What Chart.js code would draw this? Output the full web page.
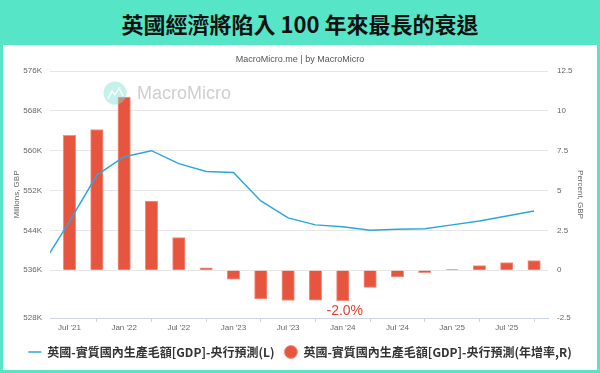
<!DOCTYPE html>
<html>
<head>
<meta charset="utf-8">
<script src="https://cdn.jsdelivr.net/npm/chart.js@4/dist/chart.umd.min.js"></script>
<style>
body { margin: 0; width: 600px; height: 373px; background: #56e5c6; overflow: hidden; position: relative; }
#titulo { position: absolute; left: 0; top: 0; width: 600px; height: 45px; line-height: 46px; text-align: center;
  font-family: "Noto Sans CJK TC", sans-serif; font-weight: bold; font-size: 22px; color: #111; }
#painel { position: absolute; left: 3px; top: 45px; width: 594px; height: 325px; background: #fff; }
</style>
</head>
<body>
<div id="titulo">英國經濟將陷入 100 年來最長的衰退</div>
<div id="painel"><canvas id="graficoPib" width="594" height="325"></canvas></div>
<script>
// trimestres (indice = posicao no eixo x)
var trimestres = ["Apr '21","Jul '21","Oct '21","Jan '22","Apr '22","Jul '22","Oct '22","Jan '23","Apr '23","Jul '23",
                  "Oct '23","Jan '24","Apr '24","Jul '24","Oct '24","Jan '25","Apr '25","Jul '25","Oct '25"];
// PIB real (milhares de milhoes GBP) - eixo L
var pibNivel = [537.0, 545.8, 555.1, 558.8, 560.0, 557.4, 555.8, 555.6, 549.9, 546.5,
                545.1, 544.7, 544.0, 544.2, 544.3, 545.1, 545.9, 546.9, 547.9];
// crescimento anual (%) - eixo R
var pibAnual = [null, 8.46, 8.83, 10.86, 4.33, 2.04, 0.15, -0.56, -1.80, -1.90,
                -1.88, -1.92, -1.08, -0.42, -0.15, 0.04, 0.29, 0.48, 0.61];
var ticksX = ["Jul '21","Jan '22","Jul '22","Jan '23","Jul '23","Jan '24","Jul '24","Jan '25","Jul '25"];
var ticksEsq = [526.4, 536, 544, 552, 560, 568, 576];
var rotulosEsq = ["528K","536K","544K","552K","560K","568K","576K"];
var ticksDir = [-3, 0, 2.5, 5, 7.5, 10, 12.5];
var rotulosDir = ["-2.5","0","2.5","5","7.5","10","12.5"];
var destaque = { trimestre: "Jan '24", texto: "-2.0%" };

var nomeLinha = "英國-實質國內生產毛額[GDP]-央行預測(L)";
var nomeBarra = "英國-實質國內生產毛額[GDP]-央行預測(年增率,R)";

var pontosLinha = pibNivel.map(function (v, i) { return { x: i, y: v }; });
var pontosBarra = [];
pibAnual.forEach(function (v, i) { if (v !== null) pontosBarra.push({ x: i, y: v }); });

Chart.defaults.font.family = "'Liberation Sans', Arial, sans-serif";
Chart.defaults.color = "#666";

// marca d'agua, subtitulo e rotulo -2.0%
var extras = {
    id: 'extras',
    afterDatasetsDraw: function (chart) {
        var ctx = chart.ctx;
        ctx.save();
        ctx.globalAlpha = 0.45;
        ctx.fillStyle = '#7fe0d2';
        ctx.beginPath();
        ctx.arc(112, 48, 11.5, 0, Math.PI * 2);
        ctx.fill();
        ctx.globalAlpha = 0.9;
        ctx.strokeStyle = '#fff';
        ctx.lineWidth = 1.5;
        ctx.beginPath();
        ctx.moveTo(105, 54); ctx.lineTo(109, 46); ctx.lineTo(112, 50); ctx.lineTo(116, 43); ctx.lineTo(120, 51);
        ctx.stroke();
        ctx.globalAlpha = 1;
        ctx.fillStyle = '#cfcfcf';
        ctx.font = '18px "Liberation Sans", Arial, sans-serif';
        ctx.textBaseline = 'middle';
        ctx.textAlign = 'left';
        ctx.fillText('MacroMicro', 134, 49);

        ctx.fillStyle = '#555';
        ctx.font = '9px "Liberation Sans", Arial, sans-serif';
        ctx.textAlign = 'center';
        ctx.fillText('MacroMicro.me | by MacroMicro', 297, 15);

        var i = trimestres.indexOf(destaque.trimestre);
        var x = chart.scales.x.getPixelForValue(i);
        var y = chart.scales.yR.getPixelForValue(pibAnual[i]);
        ctx.fillStyle = '#e8412f';
        ctx.font = '14px "Liberation Sans", Arial, sans-serif';
        ctx.fillText(destaque.texto, x + 2, y + 10);
        ctx.restore();
    }
};

var ctxG = document.getElementById('graficoPib').getContext('2d');
var grafico = new Chart(ctxG, {
    type: 'bar',
    data: {
        datasets: [
            {
                type: 'line',
                label: nomeLinha,
                data: pontosLinha,
                yAxisID: 'yL',
                borderColor: '#2ba7dc',
                backgroundColor: '#2ba7dc',
                borderWidth: 1.5,
                pointRadius: 0,
                tension: 0,
                order: 0,
                pointStyle: 'line'
            },
            {
                type: 'bar',
                label: nomeBarra,
                data: pontosBarra,
                yAxisID: 'yR',
                backgroundColor: '#e8553f',
                borderColor: '#f39384',
                borderWidth: 1,
                barThickness: 12.5,
                order: 1,
                pointStyle: 'circle'
            }
        ]
    },
    plugins: [extras],
    options: {
        responsive: false,
        animation: false,
        layout: { padding: { top: 26, left: 0, right: 0, bottom: 2 } },
        plugins: {
            tooltip: { enabled: false },
            legend: {
                position: 'bottom',
                labels: {
                    usePointStyle: true,
                    pointStyleWidth: 13,
                    boxHeight: 9.2,
                    padding: 10,
                    color: '#333',
                    font: { family: "'Noto Sans CJK TC', sans-serif", size: 12, weight: 'bold' }
                }
            }
        },
        scales: {
            x: {
                type: 'linear',
                offset: false,
                min: 0.286,
                max: 18.51,
                afterBuildTicks: function (s) {
                    s.ticks = ticksX.map(function (t) { return { value: trimestres.indexOf(t) }; });
                },
                afterFit: function (s) { s.height = 18; },
                ticks: {
                    font: { size: 8 },
                    padding: 1,
                    maxRotation: 0,
                    autoSkip: false,
                    callback: function (v) { return trimestres[v]; }
                },
                grid: { drawOnChartArea: false, tickLength: 4, color: '#ccd6eb' },
                border: { color: '#ccd6eb' }
            },
            yL: {
                position: 'left',
                min: ticksEsq[0],
                max: ticksEsq[ticksEsq.length - 1],
                afterBuildTicks: function (s) {
                    s.ticks = ticksEsq.map(function (v) { return { value: v }; });
                },
                afterFit: function (s) { s.width = 47; },
                ticks: {
                    font: { size: 8 },
                    padding: 8,
                    callback: function (v) { return rotulosEsq[ticksEsq.indexOf(v)]; }
                },
                grid: { color: '#e6e6e6', drawTicks: false },
                border: { display: false },
                title: { display: true, text: 'Millions, GBP', font: { size: 8 }, padding: { top: 9, bottom: 0 } }
            },
            yR: {
                position: 'right',
                min: ticksDir[0],
                max: ticksDir[ticksDir.length - 1],
                afterBuildTicks: function (s) {
                    s.ticks = ticksDir.map(function (v) { return { value: v }; });
                },
                afterFit: function (s) { s.width = 49; },
                ticks: {
                    font: { size: 8 },
                    padding: 9,
                    callback: function (v) { return rotulosDir[ticksDir.indexOf(v)]; }
                },
                grid: { drawOnChartArea: false, drawTicks: false },
                border: { display: false },
                title: { display: true, text: 'Percent, GBP', font: { size: 8 }, padding: { top: 12, bottom: 0 } }
            }
        }
    }
});
</script>
</body>
</html>
